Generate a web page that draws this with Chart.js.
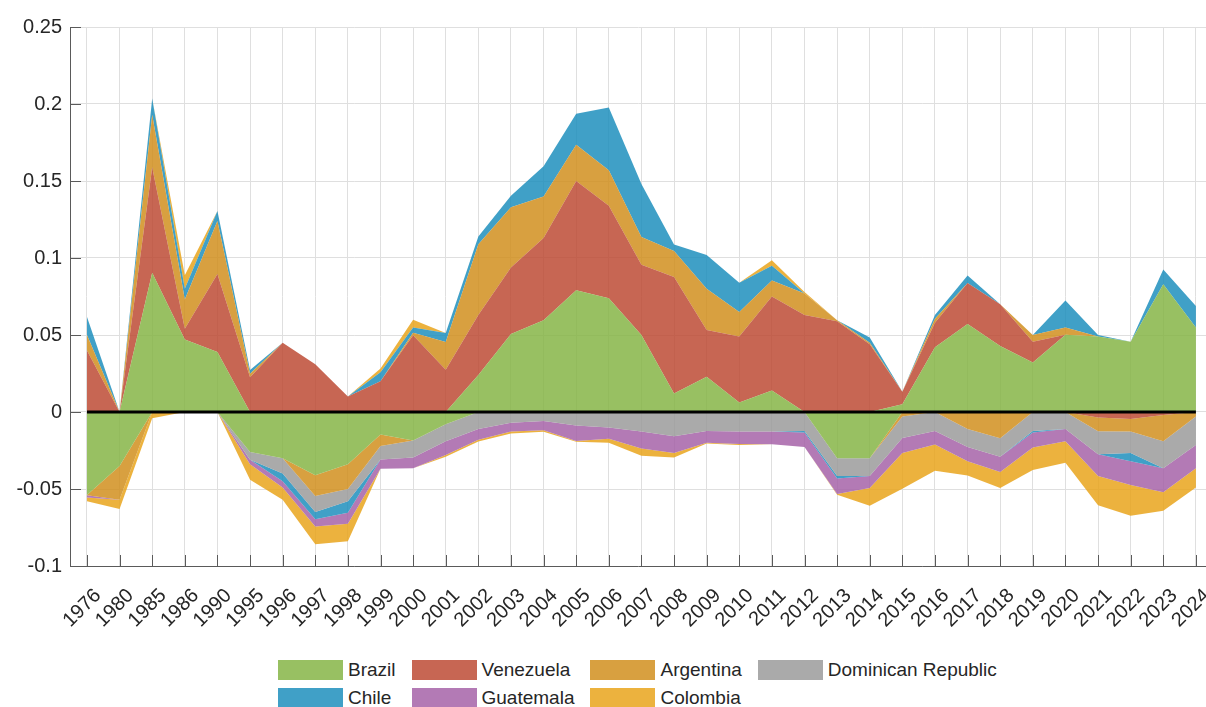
<!DOCTYPE html>
<html>
<head>
<meta charset="utf-8">
<script src="https://cdn.jsdelivr.net/npm/chart.js@4/dist/chart.umd.min.js"></script>
<style>
  body { margin: 0; background: #fff; font-family: "Liberation Sans", Arial, sans-serif; }
  #wrap { position: relative; width: 1206px; height: 707px; overflow: hidden; }
  #legend {
    position: absolute; top: 660px; left: 278px;
    display: grid; grid-template-columns: repeat(4, auto);
    column-gap: 16px; row-gap: 8px;
    font-size: 19px; color: #262626;
  }
  .item { display: flex; align-items: center; height: 20px; }
  .sw { width: 65px; height: 20px; margin-right: 5px; }
</style>
</head>
<body>
<div id="wrap">
  <canvas id="grafico" width="1206" height="650"></canvas>
  <div id="legend"></div>
</div>
<script>
// categorias del eje x
const years = ['1976', '1980', '1985', '1986', '1990', '1995', '1996', '1997', '1998', '1999',
  '2000', '2001', '2002', '2003', '2004', '2005', '2006', '2007', '2008', '2009',
  '2010', '2011', '2012', '2013', '2014', '2015', '2016', '2017', '2018', '2019',
  '2020', '2021', '2022', '2023', '2024'];

const yTicks = [-0.1, -0.05, 0, 0.05, 0.1, 0.15, 0.2, 0.25];

// valores, uno por año
const brazil = [-0.054, -0.035, 0.0905, 0.047, 0.039, -0.026, -0.030, -0.041, -0.034, -0.0146,
  -0.0185, -0.008, 0.024, 0.0507, 0.0595, 0.079, 0.0738, 0.050, 0.012, 0.0229,
  0.0062, 0.0139, 0, -0.030, -0.030, 0.005, 0.042, 0.0572, 0.0428, 0.0322,
  0.0502, 0.049, 0.0456, 0.083, 0.0549];
const venezuela = [0.040, 0, 0.0685, 0.007, 0.0506, 0.0225, 0.0449, 0.031, 0.010, 0.020,
  0.0498, 0.0275, 0.039, 0.0431, 0.0535, 0.071, 0.0602, 0.0456, 0.0757, 0.0303,
  0.0428, 0.0611, 0.063, 0.059, 0.044, 0.0082, 0.016, 0.0266, 0.0272, 0.0134,
  0, -0.0035, -0.0046, -0.002, 0];
const argentina = [0.010, -0.022, 0.034, 0.019, 0.0344, 0.0023, 0, -0.0136, -0.016, -0.0074,
  0.0016, 0.018, 0.046, 0.0392, 0.027, 0.0236, 0.023, 0.0181, 0.0169, 0.0268,
  0.016, 0.0104, 0.014, 0.0005, 0.001, -0.003, 0.0026, -0.011, -0.017, 0.0044,
  0.0047, -0.009, -0.008, -0.017, -0.003];
const dominican = [0, 0, 0, 0, 0, -0.005, -0.010, -0.0104, -0.008, -0.0088,
  -0.011, -0.011, -0.011, -0.007, -0.0058, -0.0088, -0.010, -0.0127, -0.0157, -0.0123,
  -0.0127, -0.0127, -0.0123, -0.0116, -0.0116, -0.0139, -0.0123, -0.0117, -0.012, -0.0123,
  -0.011, -0.015, -0.014, -0.0176, -0.0185];
const chile = [0.0118, 0, 0.0105, 0.007, 0.0066, 0.0025, -0.005, -0.0047, -0.0075, 0.0058,
  0.0035, 0.0058, 0.005, 0.0075, 0.0195, 0.020, 0.0407, 0.0343, 0.0042, 0.0219,
  0.019, 0.0096, -0.001, -0.0016, 0.0034, 0, 0.0024, 0.0048, 0, -0.001,
  0.0175, 0.001, -0.0053, 0.0096, 0.0139];
const guatemala = [-0.0015, 0, 0, 0, 0, -0.003, -0.004, -0.0046, -0.007, -0.006,
  -0.007, -0.009, -0.007, -0.0057, -0.006, -0.010, -0.0074, -0.011, -0.011, -0.0077,
  -0.0081, -0.0083, -0.0095, -0.010, -0.0077, -0.0097, -0.0088, -0.0093, -0.010, -0.0097,
  -0.008, -0.014, -0.0155, -0.0155, -0.015];
const colombia = [-0.0025, -0.006, -0.004, 0.0088, 0, -0.010, -0.008, -0.0116, -0.0115, 0.0025,
  0.005, -0.001, -0.0012, -0.0013, -0.001, -0.0005, -0.0026, -0.0047, -0.0028, -0.0005,
  -0.0007, 0.0036, 0.001, -0.0005, -0.0115, -0.0232, -0.017, -0.0092, -0.0104, -0.0147,
  -0.014, -0.019, -0.020, -0.012, -0.0125];

const countries = ['Brazil', 'Venezuela', 'Argentina', 'Dominican Republic', 'Chile', 'Guatemala', 'Colombia'];
const seriesValues = [brazil, venezuela, argentina, dominican, chile, guatemala, colombia];
const colores = ['rgba(134,181,70,0.85)', 'rgba(189,75,53,0.85)', 'rgba(209,143,30,0.85)',
  'rgba(155,155,155,0.85)', 'rgba(30,143,189,0.85)', 'rgba(166,99,168,0.85)', 'rgba(233,164,28,0.85)'];

// apila positivos y negativos por separado (como dos llamadas a area)
function acumular(signo) {
  const suma = years.map(() => 0);
  return seriesValues.map(vals => {
    vals.forEach((v, i) => { if (signo > 0 ? v > 0 : v < 0) suma[i] += v; });
    return suma.slice();
  });
}

const datasets = [];
[1, -1].forEach(signo => {
  const base = datasets.length;
  acumular(signo).forEach((capa, k) => {
    datasets.push({
      label: countries[k],
      data: capa.map((y, i) => ({ x: i, y: y })),
      backgroundColor: colores[k],
      borderColor: 'rgba(0,0,0,0)',
      borderWidth: 0,
      pointRadius: 0,
      tension: 0,
      fill: k === 0 ? 'origin' : base + k - 1
    });
  });
});
// linea negra en cero
datasets.push({
  label: 'cero',
  data: years.map((y, i) => ({ x: i, y: 0 })),
  borderColor: '#000',
  borderWidth: 3,
  pointRadius: 0,
  fill: false,
  order: -1
});

// ticks hacia adentro, estilo matlab
const ticksAdentro = {
  id: 'ticksAdentro',
  afterDatasetsDraw(chart) {
    const { ctx, chartArea: a, scales: { x, y } } = chart;
    ctx.save();
    ctx.strokeStyle = '#5a5a5a';
    ctx.lineWidth = 1;
    ctx.beginPath();
    x.ticks.forEach(t => {
      const px = Math.round(x.getPixelForValue(t.value)) + 0.5;
      ctx.moveTo(px, a.bottom);
      ctx.lineTo(px, a.bottom - 11);
    });
    y.ticks.forEach(t => {
      const py = Math.round(y.getPixelForValue(t.value)) + 0.5;
      ctx.moveTo(a.left, py);
      ctx.lineTo(a.left + 11, py);
    });
    ctx.stroke();
    ctx.restore();
  }
};

const fuente = { family: '"Liberation Sans", Arial, sans-serif', size: 20 };

new Chart(document.getElementById('grafico').getContext('2d'), {
  type: 'line',
  data: { datasets: datasets },
  options: {
    responsive: false,
    animation: false,
    devicePixelRatio: 1,
    layout: { padding: { top: 27, left: 0, right: 0, bottom: 0 } },
    plugins: { legend: { display: false }, tooltip: { enabled: false } },
    scales: {
      x: {
        type: 'linear',
        min: -0.52,
        max: 34.31,
        afterBuildTicks: s => { s.ticks = years.map((y, i) => ({ value: i })); },
        afterFit: s => { s.height = 84; s.paddingLeft = 0; s.paddingRight = 0; },
        ticks: {
          autoSkip: false,
          minRotation: 45,
          maxRotation: 45,
          padding: 18,
          labelOffset: 11,
          color: '#262626',
          font: fuente,
          callback: v => years[v]
        },
        grid: { color: '#dfdfdf', drawTicks: false },
        border: { color: '#5a5a5a', width: 1 }
      },
      y: {
        min: -0.1,
        max: 0.25,
        afterBuildTicks: s => { s.ticks = yTicks.map(v => ({ value: v })); },
        afterFit: s => { s.width = 70; s.paddingTop = 0; s.paddingBottom = 0; },
        ticks: {
          padding: 8,
          color: '#262626',
          font: fuente,
          callback: v => String(+v.toFixed(2))
        },
        grid: { color: '#dfdfdf', drawTicks: false },
        border: { color: '#5a5a5a', width: 1 }
      }
    }
  },
  plugins: [ticksAdentro]
});

// leyenda en html, 4 columnas
const leyenda = document.getElementById('legend');
countries.forEach((c, k) => {
  leyenda.innerHTML += `<div class="item"><div class="sw" style="background:${colores[k]}"></div>${c}</div>`;
});
</script>
</body>
</html>
